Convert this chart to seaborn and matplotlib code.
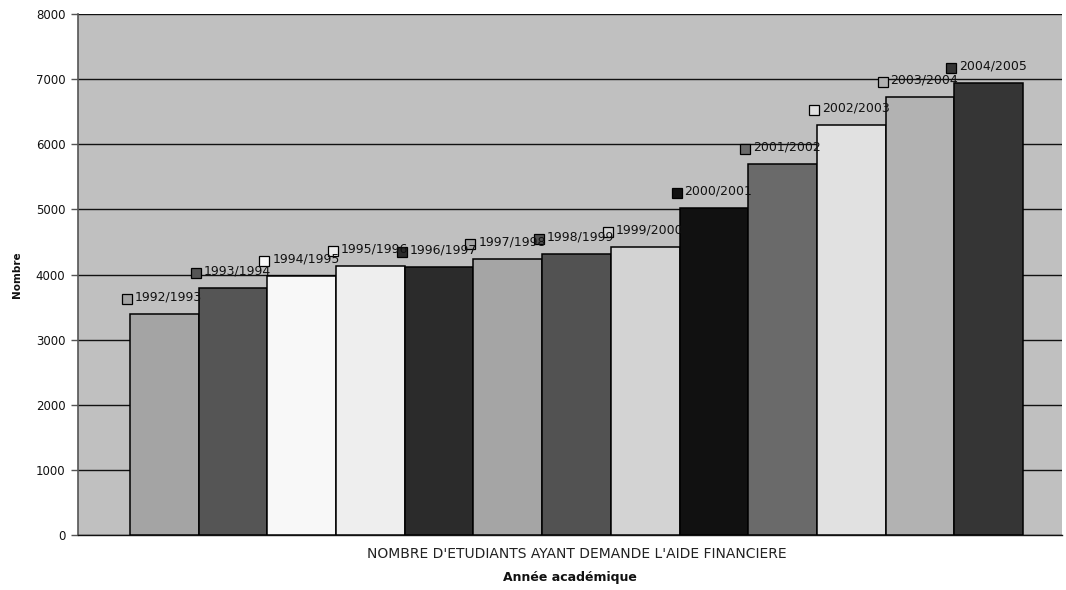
import matplotlib
matplotlib.use("Agg")
import matplotlib.pyplot as plt
import matplotlib.transforms as mtransforms
import seaborn as sns
import pandas as pd

# Academic years and number of students who applied for financial aid
years = ["1992/1993", "1993/1994", "1994/1995", "1995/1996", "1996/1997",
         "1997/1998", "1998/1999", "1999/2000", "2000/2001", "2001/2002",
         "2002/2003", "2003/2004", "2004/2005"]
counts = [3390, 3800, 3975, 4135, 4120, 4240, 4310, 4425, 5025, 5700,
          6295, 6730, 6940]
shades = ["#a4a4a4", "#555555", "#f8f8f8", "#eeeeee", "#2b2b2b", "#a5a5a5",
          "#525252", "#d3d3d3", "#111111", "#6a6a6a", "#e1e1e1", "#b2b2b2",
          "#353535"]
category = "NOMBRE D'ETUDIANTS AYANT DEMANDE L'AIDE FINANCIERE"
yticks = [0, 1000, 2000, 3000, 4000, 5000, 6000, 7000, 8000]

df = pd.DataFrame({"cat": [category] * len(years), "year": years, "n": counts})

sns.set_theme(style="white")
plt.rcParams["font.family"] = ["DejaVu Sans"]

fig = plt.figure(figsize=(10.66, 5.90), dpi=100)
ax = fig.add_axes([78 / 1066, 55 / 590, (1062 - 78) / 1066, (535 - 14) / 590])
ax.set_facecolor("#c0c0c0")

sns.barplot(data=df, x="cat", y="n", hue="year", hue_order=years,
            palette=shades, width=1.0, edgecolor="black", linewidth=1.1,
            legend=False, ax=ax, zorder=3)

ax.set_ylim(0, 8000)
ax.set_yticks(yticks)
ax.set_yticklabels([str(t) for t in yticks], fontsize=8.5, color="#111111")
ax.set_xlim(-0.5582, 0.5437)
ax.yaxis.grid(True, color="#111111", linewidth=1.0, zorder=0)
ax.set_axisbelow(True)

for side in ("top", "right"):
    ax.spines[side].set_visible(False)
ax.spines["left"].set_color("#555555")
ax.spines["left"].set_linewidth(1.2)
ax.spines["bottom"].set_color("#111111")
ax.spines["bottom"].set_linewidth(1.0)
ax.tick_params(axis="y", which="both", left=True, length=5, width=1,
               color="#555555", pad=4)
ax.tick_params(axis="x", bottom=False, labelsize=10, pad=3,
               labelcolor="#222222")

# Series name labels with a legend key above the top-left corner of each bar
key_shift = mtransforms.ScaledTranslation(-3 / 100, 15 / 100,
                                          fig.dpi_scale_trans)
bars = sorted(ax.patches, key=lambda p: p.get_x())
for bar, name, col in zip(bars, years, shades):
    x0 = bar.get_x()
    top = bar.get_height()
    ax.plot([x0], [top], marker="s", markersize=7.8, markerfacecolor=col,
            markeredgecolor="black", markeredgewidth=0.9, linestyle="none",
            transform=ax.transData + key_shift, zorder=5, clip_on=False)
    ax.annotate(name, xy=(x0, top), xytext=(5, 17),
                textcoords="offset pixels", fontsize=9, color="#111111",
                va="center", ha="left", zorder=6)

ax.set_xlabel("Année académique", fontsize=9, fontweight="bold",
              labelpad=7, color="#111111")
ax.set_ylabel("Nombre", fontsize=7.5, fontweight="bold", labelpad=10,
              color="#111111")

fig.savefig("out.png", dpi=100, facecolor="white")
